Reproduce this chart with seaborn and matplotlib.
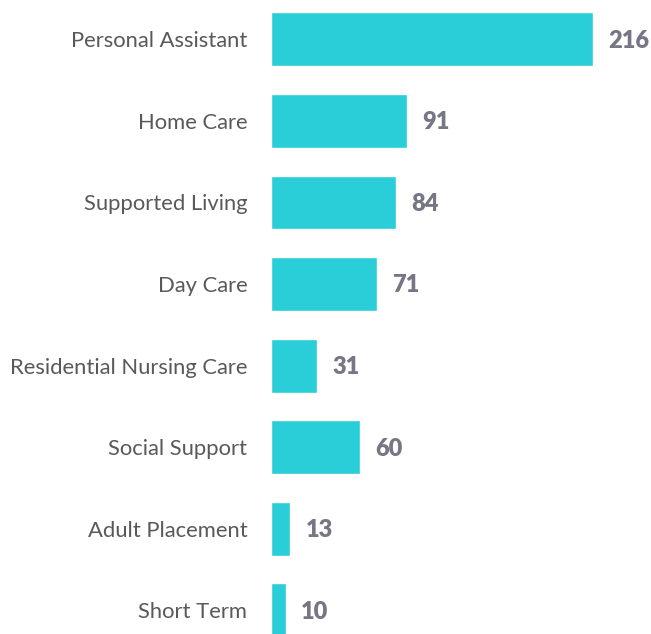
import matplotlib
matplotlib.use("Agg")
import matplotlib.pyplot as plt
import seaborn as sns
import pandas as pd

categories = [
    "Personal Assistant",
    "Home Care",
    "Supported Living",
    "Day Care",
    "Residential Nursing Care",
    "Social Support",
    "Adult Placement",
    "Short Term",
]
counts = [216, 91, 84, 71, 31, 60, 13, 10]

df = pd.DataFrame({"Service": categories, "Count": counts})

sns.set_style("white")
plt.rcParams["font.family"] = ["Lato", "DejaVu Sans"]

fig = plt.figure(figsize=(6.51, 6.34), dpi=100)
ax = fig.add_axes([271 / 651, -0.027, 372.7 / 651, 1.0293])

sns.barplot(data=df, x="Count", y="Service", color="#29CED8", width=0.66,
            saturation=1, ax=ax)

ax.set_xlim(0, 250)
ax.set_ylim(7.5, -0.5)
ax.set_xlabel("")
ax.set_ylabel("")
ax.set_xticks([])
for s in ax.spines.values():
    s.set_visible(False)
ax.tick_params(axis="y", length=0, pad=17, labelsize=15.8, labelcolor="#595959")

for i, v in enumerate(counts):
    ax.annotate(str(v), (v, i), xytext=(11, -1), textcoords="offset points",
                va="center", ha="left", fontsize=17, fontweight="heavy",
                color="#767684")

fig.savefig("out.png", dpi=100)
